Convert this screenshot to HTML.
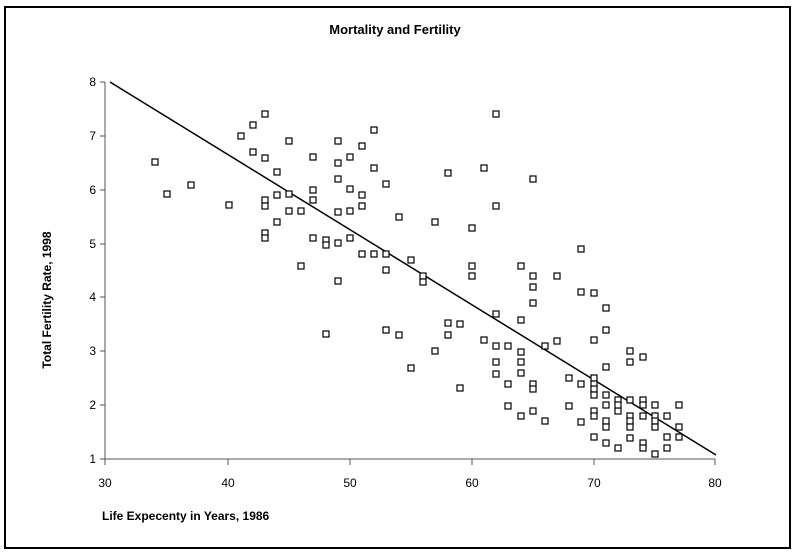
<!DOCTYPE html>
<html><head><style>body{margin:0;background:#fff}</style></head><body>
<svg width="800" height="553" xmlns="http://www.w3.org/2000/svg" font-family="Liberation Sans, Arial, sans-serif">
<rect x="5" y="7" width="785" height="541" fill="#fff" stroke="#000" stroke-width="2"/>
<text x="395" y="34" font-size="13" font-weight="bold" text-anchor="middle">Mortality and Fertility</text>
<g stroke="#555" stroke-width="1">
<line x1="105" y1="82" x2="105" y2="459"/>
<line x1="105" y1="459" x2="715" y2="459"/>
<line x1="100" y1="82" x2="105" y2="82"/><line x1="100" y1="136" x2="105" y2="136"/><line x1="100" y1="190" x2="105" y2="190"/><line x1="100" y1="244" x2="105" y2="244"/><line x1="100" y1="297" x2="105" y2="297"/><line x1="100" y1="351" x2="105" y2="351"/><line x1="100" y1="405" x2="105" y2="405"/><line x1="100" y1="459" x2="105" y2="459"/>
<line x1="105" y1="459" x2="105" y2="465"/><line x1="228" y1="459" x2="228" y2="465"/><line x1="350" y1="459" x2="350" y2="465"/><line x1="472" y1="459" x2="472" y2="465"/><line x1="594" y1="459" x2="594" y2="465"/><line x1="715" y1="459" x2="715" y2="465"/>
</g>
<g font-size="12" text-anchor="end">
<text x="96" y="86">8</text><text x="96" y="140">7</text><text x="96" y="194">6</text><text x="96" y="248">5</text><text x="96" y="301">4</text><text x="96" y="355">3</text><text x="96" y="409">2</text><text x="96" y="463">1</text>
</g>
<g font-size="12" text-anchor="middle">
<text x="105" y="487">30</text><text x="228" y="487">40</text><text x="350" y="487">50</text><text x="472" y="487">60</text><text x="594" y="487">70</text><text x="715" y="487">80</text>
</g>
<text x="102" y="520" font-size="12" font-weight="bold">Life Expecenty in Years, 1986</text>
<text transform="translate(51,300) rotate(-90)" font-size="12" font-weight="bold" text-anchor="middle">Total Fertility Rate, 1998</text>
<line x1="110" y1="82" x2="716" y2="455" stroke="#000" stroke-width="1.5"/>
<g fill="#fff" stroke="#000" stroke-width="1.2" id="pts"></g>
</svg>
<script>
var p=[[155,162],[167,194],[191,185],[229,205],[241,136],[253,125],[265,114],[253,152],[265,158],[277,172],[265,200],[265,206],[277,195],[289,141],[289,194],[265,233],[265,238],[277,222],[289,211],[301,211],[301,266],[313,157],[313,190],[313,200],[313,238],[326,240],[326,245],[326,334],[338,141],[338,163],[338,179],[338,212],[338,243],[338,281],[350,157],[350,189],[350,211],[350,238],[362,146],[362,195],[362,206],[362,254],[374,130],[374,168],[374,254],[386,184],[386,254],[386,270],[386,330],[399,217],[399,335],[411,260],[411,368],[423,276],[423,282],[435,222],[435,351],[448,173],[448,335],[448,323],[460,324],[460,388],[472,228],[472,266],[472,276],[484,168],[484,340],[496,114],[496,206],[496,314],[496,346],[496,362],[496,374],[508,346],[508,384],[508,406],[521,266],[521,320],[521,352],[521,362],[521,373],[521,416],[533,179],[533,276],[533,287],[533,303],[533,384],[533,389],[533,411],[545,346],[545,421],[557,276],[557,341],[569,406],[569,378],[581,249],[581,292],[581,422],[581,384],[594,293],[594,340],[594,378],[594,384],[594,389],[594,395],[594,411],[594,416],[594,437],[606,308],[606,330],[606,367],[606,395],[606,405],[606,421],[606,427],[606,443],[618,411],[618,400],[618,405],[618,448],[630,351],[630,362],[630,400],[630,416],[630,421],[630,427],[630,438],[643,357],[643,400],[643,405],[643,416],[643,443],[643,448],[655,405],[655,416],[655,421],[655,427],[655,454],[667,416],[667,437],[667,448],[679,405],[679,427],[679,437]];
var g=document.getElementById('pts'),s='';
p.forEach(function(a){s+='<rect x="'+(a[0]-3)+'" y="'+(a[1]-3)+'" width="6" height="6"/>';});
g.innerHTML=s;
</script>
</body></html>
